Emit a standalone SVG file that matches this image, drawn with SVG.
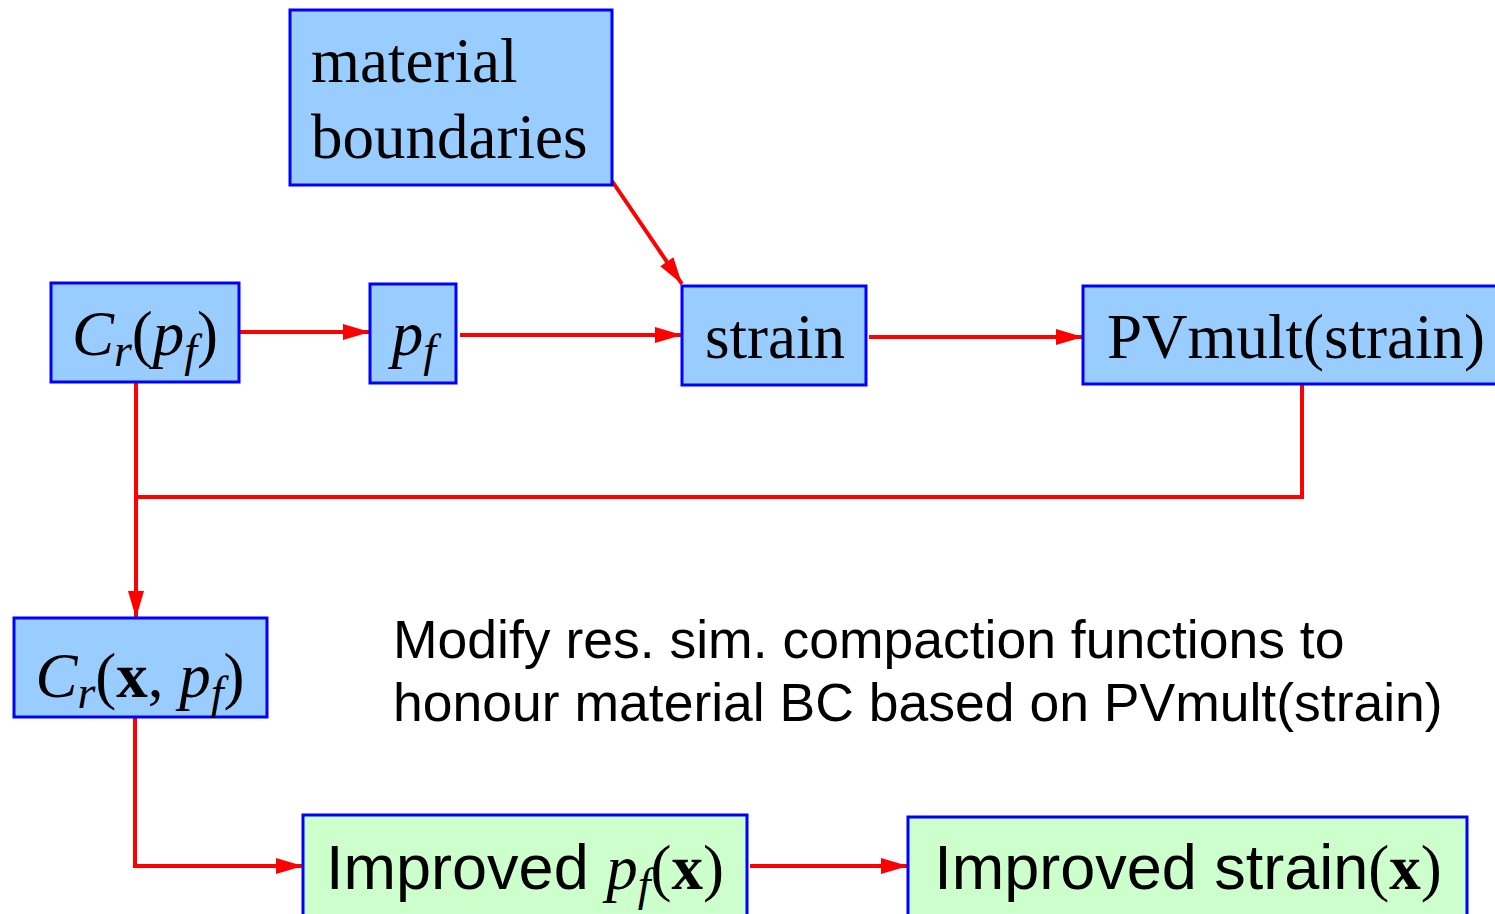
<svg xmlns="http://www.w3.org/2000/svg" width="1495" height="914" viewBox="0 0 1495 914">
<defs>
<style>
.box{fill:#99ccff;stroke:#0000ff;stroke-width:3}
.gbox{fill:#ccffcc;stroke:#0000ff;stroke-width:3}
.serif{font-family:"Liberation Serif","Times New Roman",serif;font-size:63px;fill:#000}
.sans{font-family:"Liberation Sans",Arial,sans-serif;fill:#000}
.it{font-style:italic}
.b{font-weight:bold}
.sub{font-size:46px;font-style:italic}
.conn{fill:none;stroke:#ff0000;stroke-width:4;stroke-linejoin:miter}
</style>
<marker id="arr" markerUnits="userSpaceOnUse" markerWidth="28" markerHeight="18" refX="27" refY="8" orient="auto">
<path d="M0,0 L27,8 L0,16 z" fill="#ff0000"/>
</marker>
</defs>
<rect width="1495" height="914" fill="#ffffff"/>
<g id="connectors">
<path class="conn" d="M239,332 H370" marker-end="url(#arr)"/>
<path class="conn" d="M460,335 H682" marker-end="url(#arr)"/>
<path class="conn" d="M612,181 L682,284" marker-end="url(#arr)"/>
<path class="conn" d="M869,337 H1083" marker-end="url(#arr)"/>
<path class="conn" d="M136,382 V618" marker-end="url(#arr)"/>
<path class="conn" d="M1302,384 V497 H136"/>
<path class="conn" d="M135,717 V866 H303" marker-end="url(#arr)"/>
<path class="conn" d="M750,866 H908" marker-end="url(#arr)"/>
</g>
<g id="material">
<rect class="box" x="290" y="10" width="322" height="175"/>
<text class="serif" x="311" y="82">material</text>
<text class="serif" x="311" y="158">boundaries</text>
</g>
<g id="crpf">
<rect class="box" x="51" y="283" width="188" height="99"/>
<text class="serif" x="145" y="355" text-anchor="middle"><tspan class="it">C</tspan><tspan class="sub" dy="11">r</tspan><tspan dy="-11">(</tspan><tspan class="it">p</tspan><tspan class="sub" dy="11">f</tspan><tspan dy="-11">)</tspan></text>
</g>
<g id="pf">
<rect class="box" x="370" y="284" width="86" height="99"/>
<text class="serif" x="414" y="355" text-anchor="middle"><tspan class="it">p</tspan><tspan class="sub" dy="11">f</tspan></text>
</g>
<g id="strain">
<rect class="box" x="682" y="286" width="184" height="99"/>
<text class="serif" x="775" y="358" text-anchor="middle">strain</text>
</g>
<g id="pvmult">
<rect class="box" x="1083" y="286" width="420" height="98"/>
<text class="serif" x="1296" y="358" text-anchor="middle">PVmult(strain)</text>
</g>
<g id="crxpf">
<rect class="box" x="14" y="618" width="253" height="99"/>
<text class="serif" x="140" y="697" text-anchor="middle"><tspan class="it">C</tspan><tspan class="sub" dy="11">r</tspan><tspan dy="-11">(</tspan><tspan class="b">x</tspan><tspan>, </tspan><tspan class="it">p</tspan><tspan class="sub" dy="11">f</tspan><tspan dy="-11">)</tspan></text>
</g>
<g id="note">
<text class="sans" font-size="53.5" x="393" y="658">Modify res. sim. compaction functions to</text>
<text class="sans" font-size="53.5" x="393" y="721">honour material BC based on PVmult(strain)</text>
</g>
<g id="improvedpf">
<rect class="gbox" x="303" y="815" width="444" height="110"/>
<text x="525" y="889" text-anchor="middle"><tspan class="sans" font-size="63">Improved </tspan><tspan class="serif it">p</tspan><tspan class="serif sub" dy="11">f</tspan><tspan class="serif" dy="-11">(</tspan><tspan class="serif b">x</tspan><tspan class="serif">)</tspan></text>
</g>
<g id="improvedstrain">
<rect class="gbox" x="908" y="817" width="559" height="110"/>
<text x="1188" y="889" text-anchor="middle"><tspan class="sans" font-size="63">Improved strain</tspan><tspan class="serif">(</tspan><tspan class="serif b">x</tspan><tspan class="serif">)</tspan></text>
</g>
</svg>
